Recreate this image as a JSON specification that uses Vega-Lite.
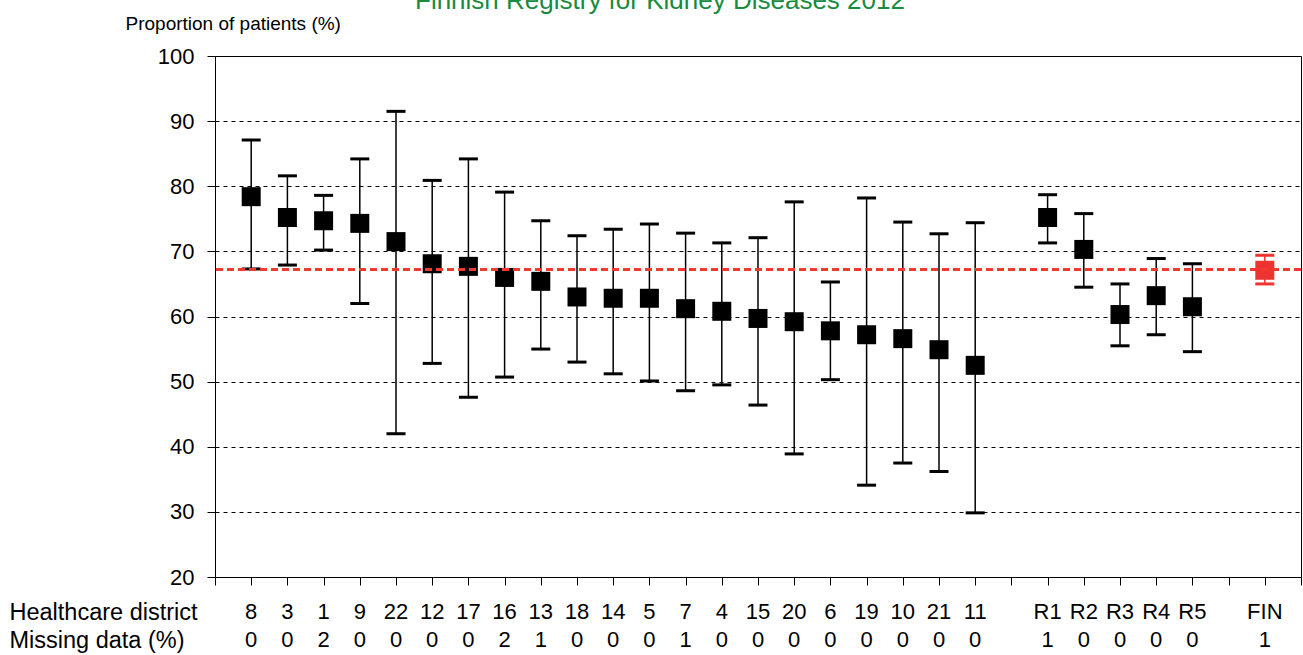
{
  "$schema": "https://vega.github.io/schema/vega-lite/v6.json",
  "autosize": {"type": "pad"},
  "padding": {"left": 9, "top": -13, "right": 1, "bottom": 0},
  "background": "white",
  "config": {
    "font": "Liberation Sans",
    "view": {"stroke": null},
    "axis": {"labelFont": "Liberation Sans", "titleFont": "Liberation Sans", "labelColor": "#000", "titleColor": "#000", "domainColor": "#000", "tickColor": "#000"}
  },
  "title": {
    "text": "Finnish Registry for Kidney Diseases 2012",
    "anchor": "start",
    "frame": "bounds",
    "fontSize": 26,
    "fontWeight": "normal",
    "color": "#178C3E",
    "baseline": "alphabetic",
    "offset": -21,
    "dx": 406
  },
  "data": {
    "values": [
      {"pos": 1, "district": "8", "missing": "0", "est": 78.4, "lo": 67.3, "hi": 87.1, "kind": "area"},
      {"pos": 2, "district": "3", "missing": "0", "est": 75.2, "lo": 67.9, "hi": 81.6, "kind": "area"},
      {"pos": 3, "district": "1", "missing": "2", "est": 74.7, "lo": 70.2, "hi": 78.6, "kind": "area"},
      {"pos": 4, "district": "9", "missing": "0", "est": 74.3, "lo": 62.0, "hi": 84.2, "kind": "area"},
      {"pos": 5, "district": "22", "missing": "0", "est": 71.5, "lo": 42.0, "hi": 91.5, "kind": "area"},
      {"pos": 6, "district": "12", "missing": "0", "est": 68.1, "lo": 52.8, "hi": 80.9, "kind": "area"},
      {"pos": 7, "district": "17", "missing": "0", "est": 67.7, "lo": 47.6, "hi": 84.2, "kind": "area"},
      {"pos": 8, "district": "16", "missing": "2", "est": 66.0, "lo": 50.7, "hi": 79.1, "kind": "area"},
      {"pos": 9, "district": "13", "missing": "1", "est": 65.4, "lo": 55.0, "hi": 74.7, "kind": "area"},
      {"pos": 10, "district": "18", "missing": "0", "est": 63.0, "lo": 53.0, "hi": 72.4, "kind": "area"},
      {"pos": 11, "district": "14", "missing": "0", "est": 62.8, "lo": 51.2, "hi": 73.4, "kind": "area"},
      {"pos": 12, "district": "5", "missing": "0", "est": 62.8, "lo": 50.1, "hi": 74.2, "kind": "area"},
      {"pos": 13, "district": "7", "missing": "1", "est": 61.2, "lo": 48.6, "hi": 72.8, "kind": "area"},
      {"pos": 14, "district": "4", "missing": "0", "est": 60.8, "lo": 49.5, "hi": 71.3, "kind": "area"},
      {"pos": 15, "district": "15", "missing": "0", "est": 59.7, "lo": 46.4, "hi": 72.1, "kind": "area"},
      {"pos": 16, "district": "20", "missing": "0", "est": 59.2, "lo": 38.9, "hi": 77.6, "kind": "area"},
      {"pos": 17, "district": "6", "missing": "0", "est": 57.8, "lo": 50.3, "hi": 65.3, "kind": "area"},
      {"pos": 18, "district": "19", "missing": "0", "est": 57.2, "lo": 34.1, "hi": 78.2, "kind": "area"},
      {"pos": 19, "district": "10", "missing": "0", "est": 56.6, "lo": 37.5, "hi": 74.5, "kind": "area"},
      {"pos": 20, "district": "21", "missing": "0", "est": 54.9, "lo": 36.2, "hi": 72.7, "kind": "area"},
      {"pos": 21, "district": "11", "missing": "0", "est": 52.5, "lo": 29.85, "hi": 74.4, "kind": "area"},
      {"pos": 23, "district": "R1", "missing": "1", "est": 75.2, "lo": 71.3, "hi": 78.7, "kind": "area"},
      {"pos": 24, "district": "R2", "missing": "0", "est": 70.3, "lo": 64.5, "hi": 75.8, "kind": "area"},
      {"pos": 25, "district": "R3", "missing": "0", "est": 60.3, "lo": 55.5, "hi": 65.0, "kind": "area"},
      {"pos": 26, "district": "R4", "missing": "0", "est": 63.2, "lo": 57.2, "hi": 68.9, "kind": "area"},
      {"pos": 27, "district": "R5", "missing": "0", "est": 61.5, "lo": 54.6, "hi": 68.1, "kind": "area"},
      {"pos": 29, "district": "FIN", "missing": "1", "est": 67.1, "lo": 65.0, "hi": 69.4, "kind": "FIN"}
    ]
  },
  "spacing": 21,
  "bounds": "flush",
  "vconcat": [
    {
      "width": 1086,
      "height": 521,
      "view": {"stroke": "#000", "strokeWidth": 1},
      "encoding": {
        "x": {
          "field": "pos",
          "type": "quantitative",
          "scale": {"domain": [0, 30], "nice": false, "zero": false},
          "axis": {
            "title": null,
            "labels": false,
            "values": [0, 1, 2, 3, 4, 5, 6, 7, 8, 9, 10, 11, 12, 13, 14, 15, 16, 17, 18, 19, 20, 21, 22, 23, 24, 25, 26, 27, 28, 29, 30],
            "tickSize": 8,
            "grid": false,
            "domainWidth": 1
          }
        },
        "color": {
          "field": "kind",
          "type": "nominal",
          "scale": {"domain": ["area", "FIN"], "range": ["#000000", "#EE3430"]},
          "legend": null
        }
      },
      "layer": [
        {
          "mark": {"type": "rule", "strokeWidth": 1.5},
          "encoding": {
            "y": {
              "field": "lo",
              "type": "quantitative",
              "scale": {"domain": [20, 100], "nice": false, "zero": false},
              "axis": {
                "title": "Proportion of patients (%)",
                "titleAngle": 0,
                "titleFontSize": 19,
                "titleFontWeight": "normal",
                "titleAlign": "left",
                "titleBaseline": "alphabetic",
                "titleAnchor": null,
                "titleX": -90,
                "titleY": -27,
                "values": [20, 30, 40, 50, 60, 70, 80, 90, 100],
                "labelFontSize": 22,
                "labelPadding": 13,
                "tickSize": 8,
                "grid": true,
                "gridColor": "#000",
                "gridDash": [4, 4],
                "gridWidth": 1,
                "domainWidth": 1
              }
            },
            "y2": {"field": "hi"}
          }
        },
        {
          "mark": {"type": "tick", "orient": "horizontal", "size": 19, "thickness": 3, "opacity": 1},
          "encoding": {"y": {"field": "lo", "type": "quantitative"}}
        },
        {
          "mark": {"type": "tick", "orient": "horizontal", "size": 19, "thickness": 3, "opacity": 1},
          "encoding": {"y": {"field": "hi", "type": "quantitative"}}
        },
        {
          "mark": {"type": "point", "shape": "square", "filled": true, "size": 361, "opacity": 1},
          "encoding": {"y": {"field": "est", "type": "quantitative"}}
        },
        {
          "data": {"values": [{"finland": 67.2}]},
          "mark": {"type": "rule", "color": "#F03A30", "strokeWidth": 3, "strokeDash": [7, 4], "opacity": 1},
          "encoding": {
            "x": null,
            "color": null,
            "y": {"field": "finland", "type": "quantitative"}
          }
        }
      ]
    },
    {
      "width": 1086,
      "height": 56,
      "view": {"stroke": null},
      "transform": [{"fold": ["district", "missing"], "as": ["row", "label"]}],
      "mark": {"type": "text", "fontSize": 22, "align": "center", "baseline": "middle", "color": "#000"},
      "encoding": {
        "x": {
          "field": "pos",
          "type": "quantitative",
          "scale": {"domain": [0, 30], "nice": false, "zero": false},
          "axis": null
        },
        "y": {
          "field": "row",
          "type": "nominal",
          "sort": ["district", "missing"],
          "axis": {
            "title": null,
            "domain": false,
            "ticks": false,
            "tickSize": 0,
            "labelAlign": "left",
            "labelPadding": 206,
            "labelLimit": 0,
            "labelFontSize": 23.5,
            "labelExpr": "datum.value == 'district' ? 'Healthcare district' : 'Missing data (%)'"
          }
        },
        "text": {"field": "label", "type": "nominal"}
      }
    }
  ]
}
